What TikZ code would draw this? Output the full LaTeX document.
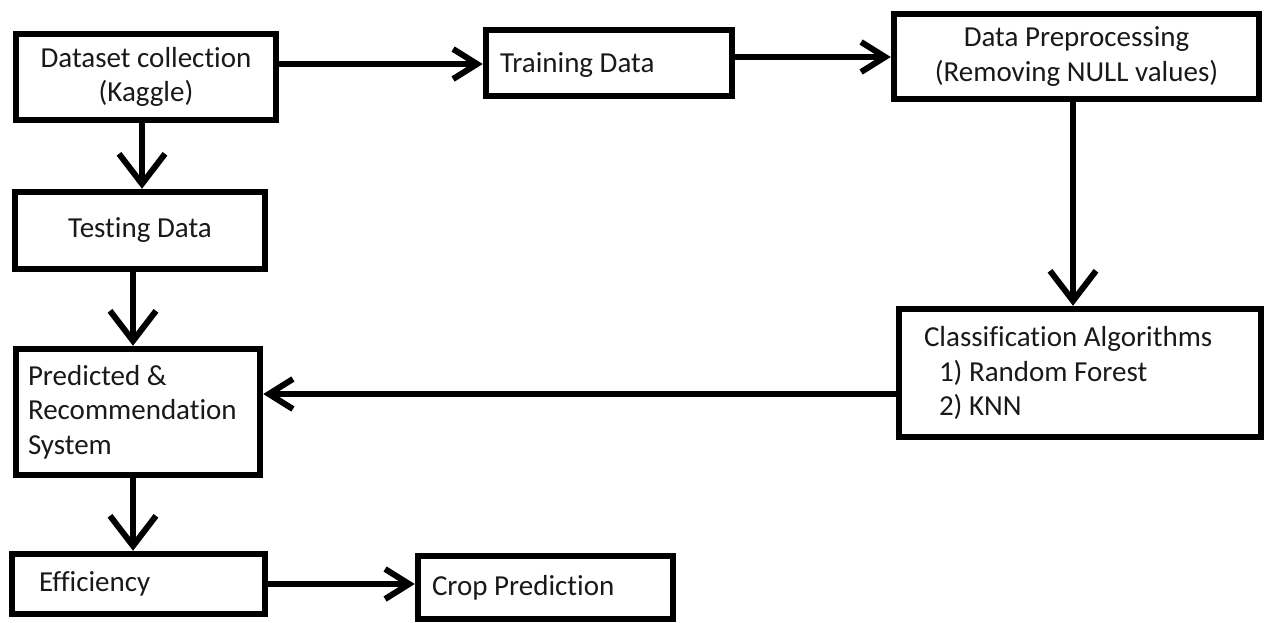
\documentclass[tikz,border=0pt]{standalone}
\usepackage{fontspec}
\setmainfont{Carlito}[Ligatures=NoCommon]
\usetikzlibrary{arrows.meta}
\begin{document}
\begin{tikzpicture}[x=1pt,y=-1pt,
  box/.style={draw=black, line width=6.5pt, rectangle, inner ysep=0pt,
    font=\fontsize{29}{34.5}\selectfont, text=black!90},
  lbox/.style={box, align=flush left},
  cbox/.style={box, align=center},
  vflow/.style={line width=6pt, -{Straight Barb[length=30pt,width=46pt,line width=6pt]}},
  hflow/.style={line width=6pt, -{Straight Barb[length=24pt,width=30pt,line width=6pt]}}
]
\useasboundingbox (0,0) rectangle (1266,622);
% boxes
\node[cbox, minimum width=260pt, minimum height=86pt] (ds) at (146,77) {Dataset collection\\(Kaggle)};
\node[lbox, inner xsep=14pt, text width=218pt, minimum height=66pt, text depth=0pt] (tr) at (609,63) {Training Data};
\node[cbox, minimum width=365pt, minimum height=85pt] (pp) at (1076.5,56.5) {Data Preprocessing\\(Removing NULL values)};
\node[cbox, minimum width=250pt, minimum height=77pt] (te) at (140,230.5) {Testing Data};
\node[lbox, inner xsep=12pt, text width=220pt, minimum height=126pt] (pr) at (138,412) {Predicted \&\\Recommendation\\System};
\node[lbox, inner xsep=25pt, text width=312pt, minimum height=128pt] (cl) at (1080,373) {Classification Algorithms\\\hspace*{15pt}1) Random Forest\\\hspace*{15pt}2) KNN};
\node[lbox, inner xsep=27pt, text width=199pt, minimum height=60pt] (ef) at (138.5,584) {Efficiency};
\node[lbox, inner xsep=14pt, text width=227pt, minimum height=63pt] (cp) at (545.5,587.5) {Crop Prediction};
% row / column guides
\coordinate (r1) at (0,64);
\coordinate (r2) at (0,57);
\coordinate (r3) at (0,394);
\coordinate (r4) at (0,584);
\coordinate (c1) at (142,0);
\coordinate (c2) at (133,0);
\coordinate (c3) at (1073,0);
% connectors
\draw[hflow] (ds.east |- r1) -- (tr.west |- r1);
\draw[hflow] (tr.east |- r2) -- (pp.west |- r2);
\draw[vflow] (pp.south -| c3) -- (cl.north -| c3);
\draw[hflow] (cl.west |- r3) -- (pr.east |- r3);
\draw[vflow] (ds.south -| c1) -- (te.north -| c1);
\draw[vflow] (te.south -| c2) -- (pr.north -| c2);
\draw[vflow] (pr.south -| c2) -- (ef.north -| c2);
\draw[hflow] (ef.east |- r4) -- (cp.west |- r4);
\end{tikzpicture}
\end{document}
